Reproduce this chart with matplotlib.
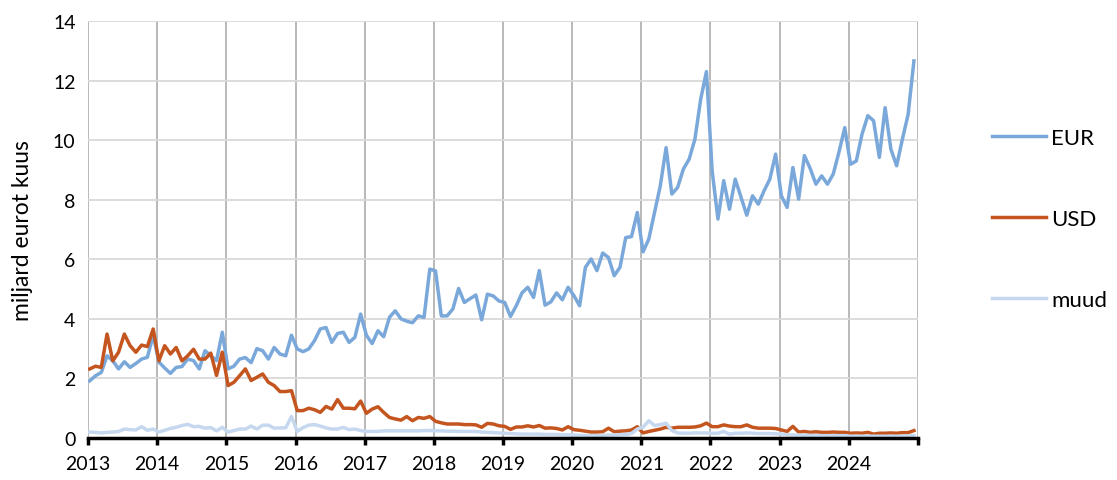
import numpy as np
import matplotlib.pyplot as plt

# kuised andmed 2013-01 ... 2024-12 (miljard eurot)
years = list(range(2013, 2025))

eur = [
    1.92, 2.09, 2.20, 2.76, 2.59, 2.32, 2.56, 2.37, 2.50, 2.65, 2.71, 3.45,  # 2013
    2.55, 2.35, 2.17, 2.37, 2.40, 2.65, 2.60, 2.32, 2.93, 2.76, 2.60, 3.55,  # 2014
    2.32, 2.41, 2.65, 2.70, 2.53, 3.00, 2.93, 2.65, 3.04, 2.82, 2.76, 3.45,  # 2015
    2.99, 2.90, 2.99, 3.27, 3.66, 3.71, 3.21, 3.51, 3.55, 3.21, 3.38, 4.16,  # 2016
    3.45, 3.17, 3.60, 3.40, 4.05, 4.27, 4.00, 3.92, 3.87, 4.10, 4.05, 5.67,  # 2017
    5.61, 4.10, 4.10, 4.33, 5.02, 4.55, 4.68, 4.80, 3.97, 4.83, 4.77, 4.60,  # 2018
    4.55, 4.08, 4.44, 4.87, 5.06, 4.72, 5.62, 4.46, 4.57, 4.87, 4.64, 5.06,  # 2019
    4.78, 4.44, 5.73, 6.01, 5.62, 6.21, 6.06, 5.45, 5.73, 6.73, 6.76, 7.57,  # 2020
    6.25, 6.68, 7.57, 8.47, 9.75, 8.19, 8.41, 9.03, 9.36, 10.03, 11.37, 12.30,  # 2021
    8.95, 7.35, 8.64, 7.68, 8.69, 8.08, 7.48, 8.13, 7.85, 8.30, 8.69, 9.53,  # 2022
    8.13, 7.74, 9.08, 8.02, 9.48, 9.05, 8.52, 8.80, 8.52, 8.86, 9.60, 10.42,  # 2023
    9.19, 9.30, 10.20, 10.82, 10.65, 9.42, 11.09, 9.70, 9.14, 10.03, 10.87, 12.66,  # 2024
]

usd = [
    2.32, 2.41, 2.37, 3.49, 2.59, 2.88, 3.49, 3.10, 2.88, 3.12, 3.07, 3.66,
    2.59, 3.10, 2.82, 3.04, 2.59, 2.76, 2.98, 2.65, 2.65, 2.85, 2.10, 2.88,
    1.76, 1.87, 2.09, 2.32, 1.93, 2.04, 2.15, 1.87, 1.76, 1.56, 1.56, 1.59,
    0.92, 0.92, 1.00, 0.95, 0.86, 1.06, 0.97, 1.29, 1.00, 1.00, 0.98, 1.24,
    0.83, 0.97, 1.05, 0.86, 0.69, 0.64, 0.60, 0.72, 0.58, 0.69, 0.66, 0.72,
    0.56, 0.51, 0.47, 0.47, 0.47, 0.45, 0.45, 0.44, 0.36, 0.49, 0.47, 0.41,
    0.39, 0.29, 0.37, 0.37, 0.41, 0.37, 0.42, 0.33, 0.34, 0.32, 0.27, 0.38,
    0.28, 0.26, 0.23, 0.20, 0.20, 0.21, 0.33, 0.21, 0.23, 0.24, 0.27, 0.38,
    0.17, 0.22, 0.26, 0.30, 0.36, 0.33, 0.36, 0.36, 0.36, 0.37, 0.41, 0.50,
    0.38, 0.38, 0.44, 0.40, 0.38, 0.38, 0.44, 0.36, 0.33, 0.33, 0.33, 0.32,
    0.27, 0.22, 0.39, 0.20, 0.22, 0.19, 0.21, 0.19, 0.19, 0.20, 0.19, 0.19,
    0.16, 0.17, 0.16, 0.19, 0.13, 0.16, 0.16, 0.17, 0.16, 0.18, 0.18, 0.25,
]

muud = [
    0.20, 0.19, 0.17, 0.19, 0.20, 0.22, 0.30, 0.28, 0.27, 0.38, 0.26, 0.30,
    0.20, 0.26, 0.32, 0.36, 0.42, 0.46, 0.38, 0.39, 0.33, 0.35, 0.24, 0.36,
    0.20, 0.25, 0.30, 0.30, 0.40, 0.30, 0.43, 0.43, 0.33, 0.34, 0.34, 0.72,
    0.22, 0.35, 0.43, 0.45, 0.40, 0.34, 0.30, 0.30, 0.36, 0.28, 0.30, 0.25,
    0.22, 0.22, 0.22, 0.24, 0.24, 0.24, 0.24, 0.24, 0.24, 0.24, 0.25, 0.25,
    0.24, 0.24, 0.23, 0.23, 0.22, 0.22, 0.22, 0.22, 0.20, 0.19, 0.18, 0.17,
    0.16, 0.15, 0.14, 0.13, 0.13, 0.13, 0.13, 0.12, 0.12, 0.12, 0.11, 0.11,
    0.10, 0.09, 0.08, 0.08, 0.08, 0.09, 0.10, 0.10, 0.11, 0.12, 0.15, 0.30,
    0.36, 0.58, 0.42, 0.45, 0.50, 0.25, 0.17, 0.16, 0.16, 0.17, 0.17, 0.17,
    0.16, 0.16, 0.22, 0.13, 0.16, 0.16, 0.17, 0.16, 0.15, 0.15, 0.15, 0.14,
    0.13, 0.11, 0.10, 0.10, 0.09, 0.09, 0.08, 0.08, 0.08, 0.08, 0.08, 0.08,
    0.06, 0.06, 0.06, 0.06, 0.06, 0.06, 0.06, 0.06, 0.06, 0.06, 0.07, 0.08,
]

plt.rcParams['font.family'] = ['Lato', 'DejaVu Sans']

# kuu keskpaik aasta skaalal
x = years[0] + (np.arange(len(eur)) + 0.3) / 12

fig = plt.figure(figsize=(11.17, 4.81), dpi=100)
ax = fig.add_axes([0.0788, 0.0873, 0.7430, 0.8670])

ax.plot(x, eur, color='#7AA8DA', lw=2.5, label='EUR', solid_joinstyle='round')
ax.plot(x, usd, color='#C4551F', lw=2.5, label='USD', solid_joinstyle='round')
ax.plot(x, muud, color='#C5D8EF', lw=2.5, label='muud', solid_joinstyle='round')

ax.set_xlim(2013, 2025)
ax.set_ylim(0, 14)
ax.set_yticks(range(0, 15, 2))
ax.set_xticks(range(2013, 2026))
ax.set_xticklabels([str(y) for y in years] + [''])

ax.grid(axis='y', color='#D9D9D9', lw=1.3)
ax.grid(axis='x', color='#A6A6A6', lw=1.1)
ax.set_axisbelow(True)

for s in ['top', 'right', 'left']:
    ax.spines[s].set_visible(False)
ax.spines['bottom'].set_color('black')
ax.spines['bottom'].set_linewidth(2.5)

ax.tick_params(axis='x', direction='out', length=5, width=2.5, color='black',
               labelsize=14, pad=7)
ax.tick_params(axis='y', length=0, labelsize=14, pad=9)

ax.set_ylabel('miljard eurot kuus', fontsize=16.5, labelpad=14)

ax.legend(loc='center left', bbox_to_anchor=(1.065, 0.525), frameon=False,
          fontsize=16, handlelength=2.45, handletextpad=0.23, labelspacing=2.75)

fig.savefig('out.png', dpi=100)
